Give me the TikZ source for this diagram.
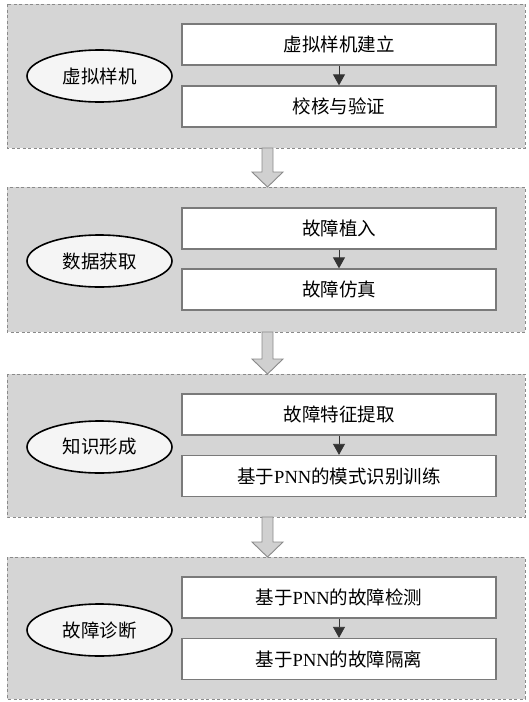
\documentclass[tikz,border=0pt]{standalone}
\usepackage{fontspec}
\setmainfont{Liberation Serif}
\newfontfamily\cjk{Noto Sans CJK SC}
\usetikzlibrary{arrows.meta,shapes.geometric}
\definecolor{panelfill}{HTML}{D5D5D5}
\definecolor{panelline}{HTML}{8A8A8A}
\definecolor{boxline}{HTML}{7A7A7A}
\definecolor{arrowfill}{HTML}{D0D0D0}
\tikzset{
  panel/.style={draw=panelline, fill=panelfill, dash pattern=on 3pt off 2.5pt, line width=1pt},
  stepbox/.style={draw=boxline, fill=white, line width=1.3pt, minimum width=314pt, minimum height=41pt, inner sep=0pt, font=\fontsize{18.5}{22}\selectfont},
  phase/.style={ellipse, draw=black, fill=white!96!black, line width=1.6pt, minimum width=145pt, minimum height=52pt, inner sep=0pt, font=\fontsize{18.5}{22}\cjk},
  smallarrow/.style={draw=black!80, line width=0.8pt, -{Triangle[length=11pt,width=12pt]}},
  bigarrow/.style={draw=panelline, fill=arrowfill, line width=0.9pt, line join=miter}
}
\newcommand{\zh}[1]{{\cjk #1}}
\begin{document}
\begin{tikzpicture}[x=1pt,y=1pt]
\useasboundingbox (0,0) rectangle (529,-702);
% panels
\draw[panel] (7,-4) rectangle (525,-148);
\draw[panel] (7,-187) rectangle (525,-332);
\draw[panel] (7,-374) rectangle (525,-517);
\draw[panel] (7,-557) rectangle (525,-699);
% big arrows
\foreach \ya/\yb in {148/187, 332/374, 517/557}{
  \pgfmathsetmacro{\yh}{\yb-15}
  \draw[bigarrow] (262,-\ya) -- (273,-\ya) -- (273,-\yh) -- (283,-\yh) -- (267.5,-\yb) -- (252,-\yh) -- (262,-\yh) -- cycle;
}
% panel 1
\node[stepbox] (a1) at (339,-44.5) {\zh{虚拟样机建立}};
\node[stepbox] (a2) at (339,-106.5) {\zh{校核与验证}};
\node[phase] (e1) at (99.5,-76) {虚拟样机};
\draw[smallarrow] (a1) -- (a2);
% panel 2
\node[stepbox] (b1) at (339,-228.5) {\zh{故障植入}};
\node[stepbox] (b2) at (339,-289.5) {\zh{故障仿真}};
\node[phase] (e2) at (99.5,-261) {数据获取};
\draw[smallarrow] (b1) -- (b2);
% panel 3
\node[stepbox] (c1) at (339,-414.5) {\zh{故障特征提取}};
\node[stepbox] (c2) at (339,-476) {\zh{基于}PNN\zh{的模式识别训练}};
\node[phase] (e3) at (99.5,-447) {知识形成};
\draw[smallarrow] (c1) -- (c2);
% panel 4
\node[stepbox] (d1) at (339,-597.5) {\zh{基于}PNN\zh{的故障检测}};
\node[stepbox] (d2) at (339,-659) {\zh{基于}PNN\zh{的故障隔离}};
\node[phase] (e4) at (99.5,-630) {故障诊断};
\draw[smallarrow] (d1) -- (d2);
\end{tikzpicture}
\end{document}
